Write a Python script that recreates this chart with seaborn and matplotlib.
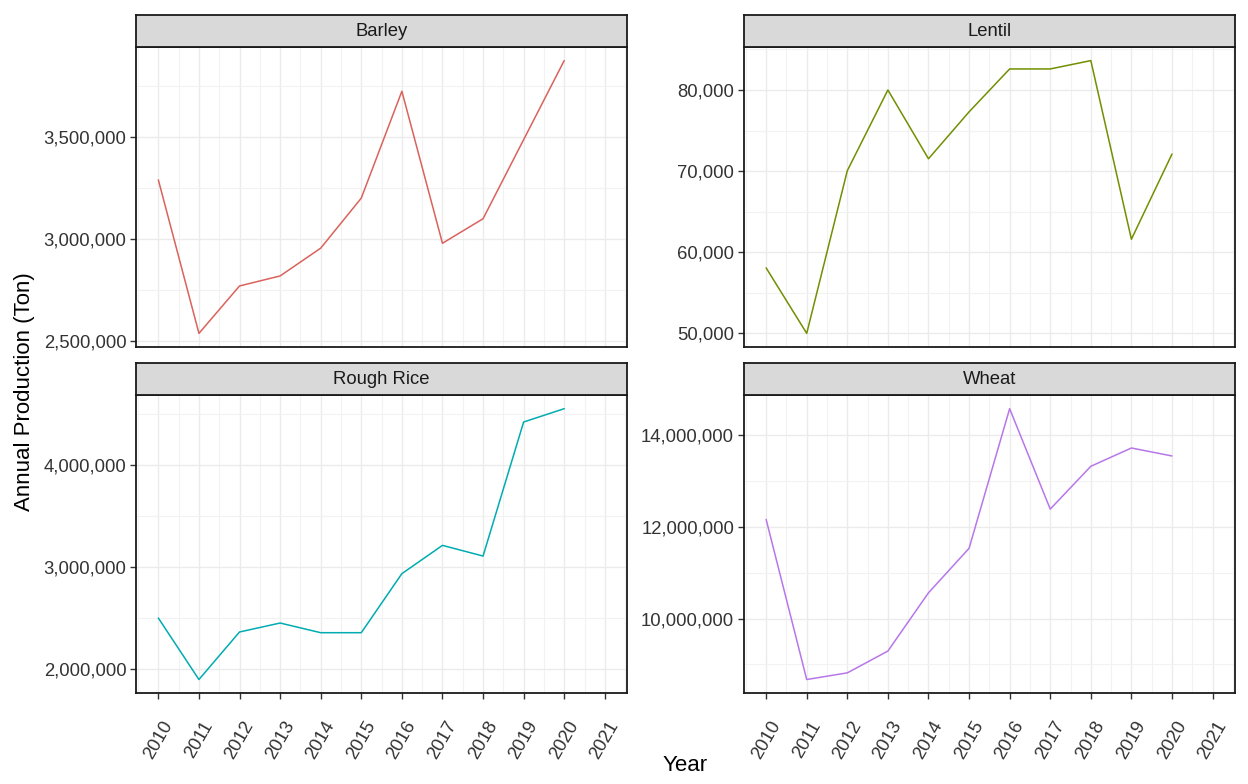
import matplotlib
matplotlib.use("Agg")
import matplotlib.pyplot as plt
import matplotlib.ticker as mticker
import seaborn as sns
import pandas as pd

years = list(range(2010, 2021))
barley = [3290000, 2539000, 2771000, 2820000, 2956000, 3201000, 3724000, 2980000, 3100000, 3487000, 3874000]
lentil = [58070, 50000, 70050, 80000, 71520, 77300, 82590, 82590, 83620, 61600, 72100]
rough_rice = [2499000, 1895000, 2362000, 2450000, 2355000, 2355000, 2935000, 3213000, 3108000, 4425000, 4556000]
wheat = [12160000, 8670000, 8815000, 9290000, 10560000, 11530000, 14574000, 12385000, 13318000, 13717000, 13543000]

crops = ["Barley", "Lentil", "Rough Rice", "Wheat"]
colors = ["#DA625C", "#718F00", "#00ACB0", "#B777E8"]
x_ticks = list(range(2010, 2022))
major_steps = [500000, 10000, 1000000, 2000000]

df = pd.DataFrame({
    "Year": years * 4,
    "Crop": [c for c in crops for _ in years],
    "Production": barley + lentil + rough_rice + wheat,
})

sns.set_theme(style="white")
plt.rcParams["font.family"] = ["Liberation Sans", "DejaVu Sans"]

fig = plt.figure(figsize=(12.48, 7.84), dpi=100)

# panel positions in figure fractions (left, bottom)
lefts = [0.109, 0.596, 0.109, 0.596]
bottoms = [0.5574, 0.5574, 0.116, 0.116]
width = 0.3935
heights = [0.3827, 0.3827, 0.380, 0.380]
strip_h = 0.0408

for i, crop in enumerate(crops):
    ax = fig.add_axes([lefts[i], bottoms[i], width, heights[i]])
    sub = df[df["Crop"] == crop]
    sns.lineplot(data=sub, x="Year", y="Production", color=colors[i], linewidth=1.1, ax=ax)
    ax.set_xlim(2009.45, 2021.55)
    ax.margins(y=0.05)
    ax.set_xticks(x_ticks)
    ax.xaxis.set_minor_locator(mticker.MultipleLocator(0.5))
    ax.yaxis.set_major_locator(mticker.MultipleLocator(major_steps[i]))
    ax.yaxis.set_minor_locator(mticker.MultipleLocator(major_steps[i] / 2))
    ax.yaxis.set_major_formatter(mticker.FuncFormatter(lambda v, p: f"{v:,.0f}"))
    ax.grid(which="major", color="#EBEBEB", linewidth=1.0)
    ax.grid(which="minor", color="#F2F2F2", linewidth=0.8)
    ax.set_axisbelow(True)
    for s in ax.spines.values():
        s.set_color("#1A1A1A")
        s.set_linewidth(1.3)
    ax.tick_params(axis="y", which="major", length=4, width=1, color="#333333",
                   labelsize=13.3, labelcolor="#333333", pad=3, left=True)
    ax.tick_params(axis="x", which="major", length=4, width=1, color="#333333",
                   labelsize=13.3, labelcolor="#333333", pad=14, bottom=True)
    ax.tick_params(which="minor", length=0)
    ax.set_xlabel("")
    ax.set_ylabel("")
    if i < 2:
        ax.tick_params(axis="x", bottom=False, labelbottom=False)
    else:
        plt.setp(ax.get_xticklabels(), rotation=60, ha="center", va="top")

    # facet strip
    sax = fig.add_axes([lefts[i], bottoms[i] + heights[i], width, strip_h])
    sax.set_facecolor("#D9D9D9")
    sax.set_xticks([])
    sax.set_yticks([])
    for s in sax.spines.values():
        s.set_color("#1A1A1A")
        s.set_linewidth(1.3)
    sax.text(0.5, 0.48, crop, ha="center", va="center", fontsize=13.3,
             color="#1A1A1A", transform=sax.transAxes)

fig.text(0.549, 0.024, "Year", ha="center", va="center", fontsize=16, color="black")
fig.text(0.020, 0.50, "Annual Production (Ton)", ha="center", va="center",
         rotation=90, fontsize=16, color="black")

fig.savefig("out.png", dpi=100, facecolor="white")
